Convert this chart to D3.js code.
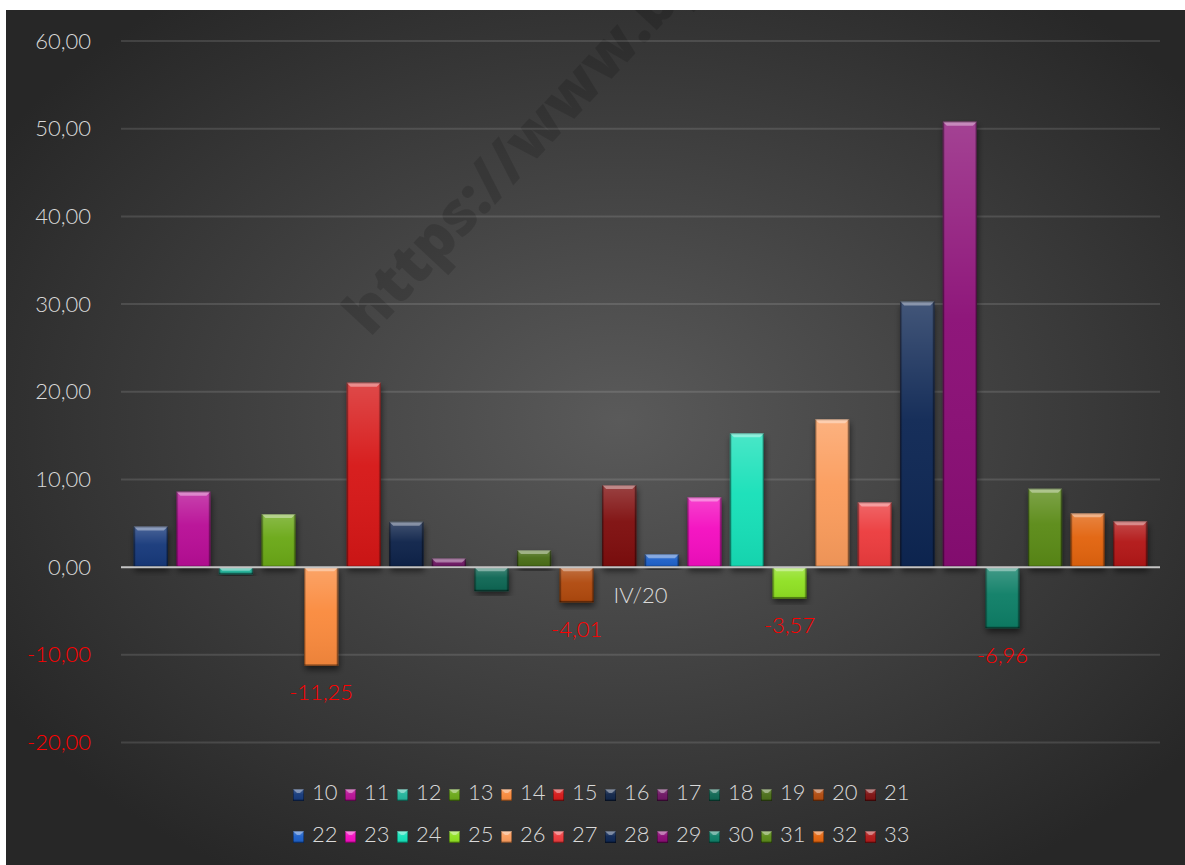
<!DOCTYPE html>
<html>
<head>
<meta charset="utf-8">
<script src="https://cdn.jsdelivr.net/npm/d3@7"></script>
<style>
  html, body { margin: 0; padding: 0; background: #ffffff; }
  svg { display: block; }
  text { font-family: Lato, "Open Sans", sans-serif; font-weight: 300; }
</style>
</head>
<body>
<div id="chart"></div>
<script>
// one category, 24 series (one bar each)
const category = "IV/20";
const seriesNames = ["10", "11", "12", "13", "14", "15", "16", "17", "18", "19", "20", "21",
                     "22", "23", "24", "25", "26", "27", "28", "29", "30", "31", "32", "33"];
const seriesValues = [4.62, 8.60, -0.80, 6.05, -11.25, 21.04, 5.17, 0.99, -2.74, 1.94, -4.01, 9.36,
                      1.48, 7.95, 15.26, -3.57, 16.86, 7.38, 30.28, 50.80, -6.96, 8.94, 6.13, 5.22];
const seriesColors = ["#14387a", "#b81196", "#22b39a", "#6aa818", "#fa8a3c", "#d61818", "#0f2448", "#6c1462",
                      "#0d6652", "#4a6d18", "#b04a0e", "#7e1010", "#1c5fc8", "#f40cc0", "#14e0b8", "#8fe020",
                      "#fb9c5c", "#ec3a3c", "#0c2552", "#8a0a74", "#0c7e66", "#5a8a18", "#e2640e", "#b21818"];
// only these series show a data label
const labelledSeries = ["14", "20", "25", "30"];
const yTicks = [-20, -10, 0, 10, 20, 30, 40, 50, 60];

const width = 1185, height = 865;
const plot = { left: 121, right: 1160, top: 41, bottom: 742.5 };

const fmt = d3.formatLocale({ decimal: ",", thousands: ".", grouping: [3], currency: ["", ""], minus: "-" }).format(".2f");

const svg = d3.select("#chart")
    .append("svg")
    .attr("width", width)
    .attr("height", height);

const defs = svg.append("defs");

// background gradient
const bg = defs.append("radialGradient")
    .attr("id", "bg_grad")
    .attr("cx", "52%").attr("cy", "48%").attr("r", "62%");
bg.append("stop").attr("offset", "0%").attr("stop-color", "#5a5a5a");
bg.append("stop").attr("offset", "100%").attr("stop-color", "#272727");

defs.append("clipPath").attr("id", "chart_clip")
    .append("rect").attr("x", 6).attr("y", 10).attr("width", width - 6).attr("height", height - 10);

// bar shading
const vShade = defs.append("linearGradient").attr("id", "v_shade")
    .attr("x1", 0).attr("y1", 0).attr("x2", 0).attr("y2", 1);
vShade.append("stop").attr("offset", "0%").attr("stop-color", "#fff").attr("stop-opacity", 0.22);
vShade.append("stop").attr("offset", "45%").attr("stop-color", "#fff").attr("stop-opacity", 0.04);
vShade.append("stop").attr("offset", "100%").attr("stop-color", "#000").attr("stop-opacity", 0.06);

const hShade = defs.append("linearGradient").attr("id", "h_shade")
    .attr("x1", 0).attr("y1", 0).attr("x2", 1).attr("y2", 0);
hShade.append("stop").attr("offset", "0%").attr("stop-color", "#000").attr("stop-opacity", 0.35);
hShade.append("stop").attr("offset", "7%").attr("stop-color", "#000").attr("stop-opacity", 0);
hShade.append("stop").attr("offset", "93%").attr("stop-color", "#000").attr("stop-opacity", 0);
hShade.append("stop").attr("offset", "100%").attr("stop-color", "#000").attr("stop-opacity", 0.4);

const shadow = defs.append("filter").attr("id", "bar_shadow")
    .attr("x", "-20%").attr("y", "-20%").attr("width", "140%").attr("height", "140%");
shadow.append("feDropShadow")
    .attr("dx", 1).attr("dy", 4).attr("stdDeviation", 3)
    .attr("flood-color", "#000").attr("flood-opacity", 0.55);

const root = svg.append("g").attr("clip-path", "url(#chart_clip)");

root.append("rect")
    .attr("x", 6).attr("y", 10)
    .attr("width", width - 6).attr("height", height - 10)
    .attr("fill", "url(#bg_grad)");

// watermark
root.append("text")
    .attr("transform", "translate(370,338) rotate(-47)")
    .style("font-family", "'Open Sans', Lato, sans-serif")
    .style("font-weight", 800)
    .attr("font-size", 60)
    .attr("fill", "#000")
    .attr("fill-opacity", 0.14)
    .text("https://www.bpg");

// scales
const y = d3.scaleLinear().domain([-20, 60]).range([plot.bottom, plot.top]);
const x = d3.scaleBand()
    .domain(seriesNames)
    .range([plot.left, plot.right])
    .paddingInner(0.2)
    .paddingOuter(0.3);

// grid
const grid = root.append("g").attr("id", "grid");
grid.selectAll("line")
    .data(yTicks.filter(t => t !== 0))
    .enter()
    .append("line")
    .attr("x1", plot.left).attr("x2", plot.right)
    .attr("y1", d => y(d)).attr("y2", d => y(d))
    .attr("stroke", "#ffffff")
    .attr("stroke-opacity", 0.12)
    .attr("stroke-width", 2);

// y axis labels
const yAxis = root.append("g")
    .attr("transform", `translate(${plot.left - 30},0)`)
    .call(d3.axisLeft(y).tickValues(yTicks).tickFormat(fmt).tickSize(0).tickPadding(0));
yAxis.select(".domain").remove();
yAxis.selectAll("text")
    .attr("font-size", 22)
    .attr("font-family", "Lato, sans-serif")
    .attr("fill", d => d < 0 ? "#ff0000" : "#d9d9d9");

// bars
const bars = root.append("g").attr("id", "bars")
    .selectAll("g")
    .data(seriesNames.map((s, i) => ({ name: s, value: seriesValues[i], color: seriesColors[i] })))
    .enter()
    .append("g");

function bevel(sel, bx, by, bw, bh, color, withShadow) {
    const g = sel.append("g");
    if (withShadow) g.attr("filter", "url(#bar_shadow)");
    g.append("rect").attr("x", bx).attr("y", by).attr("width", bw).attr("height", bh).attr("fill", color);
    sel.append("rect").attr("x", bx).attr("y", by).attr("width", bw).attr("height", bh).attr("fill", "url(#v_shade)");
    sel.append("rect").attr("x", bx).attr("y", by).attr("width", bw).attr("height", bh).attr("fill", "url(#h_shade)");
    const t = Math.min(4, bh / 2);
    sel.append("path")
        .attr("d", `M${bx},${by}L${bx + bw},${by}L${bx + bw - t},${by + t}L${bx + t},${by + t}Z`)
        .attr("fill", "#fff").attr("fill-opacity", 0.38);
    sel.append("rect").attr("x", bx).attr("y", by + bh - 1.5).attr("width", bw).attr("height", 1.5)
        .attr("fill", "#000").attr("fill-opacity", 0.3);
    sel.append("rect").attr("x", bx + 0.5).attr("y", by + 0.5).attr("width", Math.max(0, bw - 1)).attr("height", Math.max(0, bh - 1))
        .attr("fill", "none").attr("stroke", "#000").attr("stroke-opacity", 0.25);
}

bars.each(function (d) {
    const top = y(Math.max(0, d.value));
    const h = Math.abs(y(d.value) - y(0));
    bevel(d3.select(this), x(d.name), top, x.bandwidth(), h, d.color, true);
});

// zero line
root.append("line")
    .attr("x1", plot.left).attr("x2", plot.right)
    .attr("y1", y(0)).attr("y2", y(0))
    .attr("stroke", "#c4c4c4")
    .attr("stroke-width", 2);

// data labels (negatives)
root.append("g").attr("id", "labels")
    .selectAll("text")
    .data(seriesNames.map((s, i) => ({ name: s, value: seriesValues[i] })).filter(d => labelledSeries.includes(d.name)))
    .enter()
    .append("text")
    .attr("x", d => x(d.name) + x.bandwidth() / 2)
    .attr("y", d => y(d.value) + 29)
    .attr("text-anchor", "middle")
    .attr("dominant-baseline", "middle")
    .attr("font-size", 22)
    .attr("fill", "#ff0000")
    .text(d => fmt(d.value));

// category label
root.append("text")
    .attr("x", (plot.left + plot.right) / 2)
    .attr("y", 598)
    .attr("text-anchor", "middle")
    .attr("dominant-baseline", "middle")
    .attr("font-size", 22)
    .attr("fill", "#d9d9d9")
    .text(category);

// legend: two rows of 12
const legend = root.append("g").attr("id", "legend");
const perRow = 12, step = 52, legendX = 293, rowY = [795, 837];
seriesNames.forEach((s, i) => {
    const lx = legendX + (i % perRow) * step;
    const ly = rowY[Math.floor(i / perRow)];
    const item = legend.append("g");
    bevel(item, lx, ly - 6, 11, 12, seriesColors[i], false);
    item.append("text")
        .attr("x", lx + 19)
        .attr("y", ly)
        .attr("dominant-baseline", "middle")
        .attr("font-size", 22)
        .attr("fill", "#d9d9d9")
        .text(s);
});
</script>
</body>
</html>
